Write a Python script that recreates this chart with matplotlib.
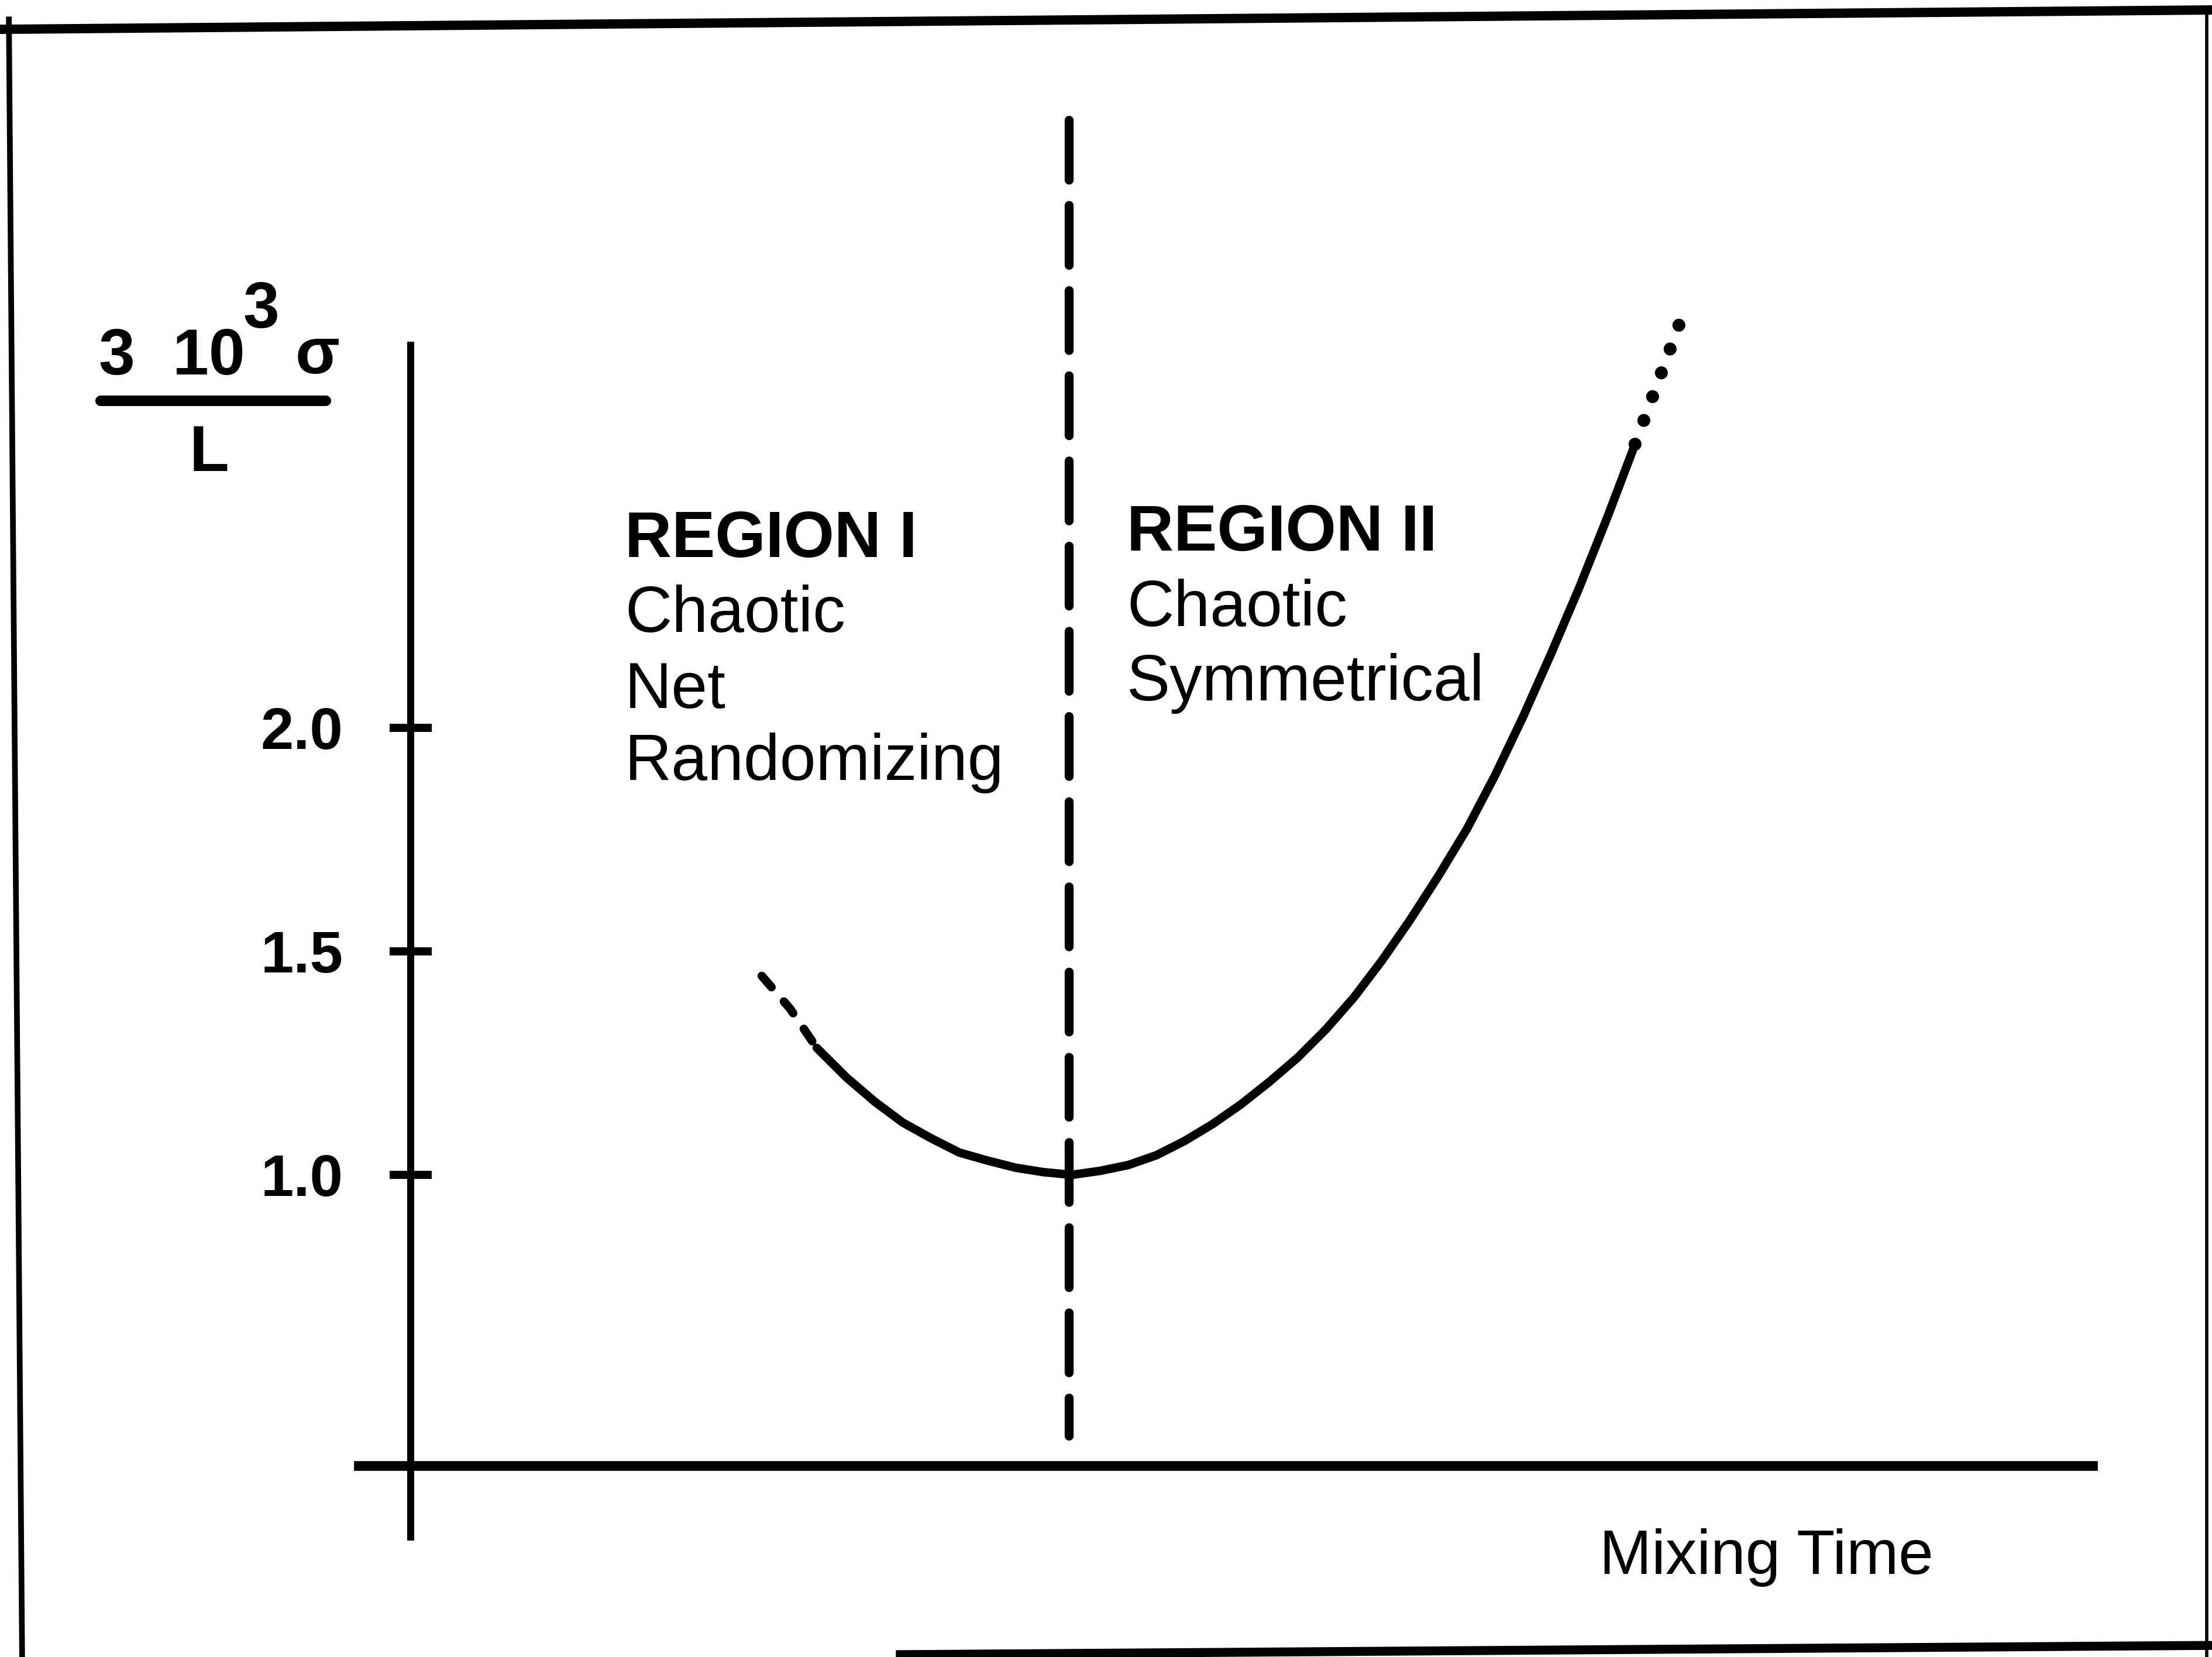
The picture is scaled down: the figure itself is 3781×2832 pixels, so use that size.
import matplotlib
matplotlib.use("Agg")
import matplotlib.pyplot as plt
from matplotlib.lines import Line2D

# ---------------- data ----------------
mix_time = [2.49, 2.69, 2.88, 3.09, 3.29, 3.49, 3.69, 3.89, 4.09, 4.29, 4.49,
            4.69, 4.89, 5.09, 5.29, 5.49, 5.69, 5.89, 6.09, 6.29, 6.49, 6.69,
            6.89, 7.09, 7.29, 7.49, 7.69, 7.89, 8.09, 8.29, 8.49, 8.68, 9.00]
sigma_ratio = [1.445, 1.372, 1.284, 1.218, 1.164, 1.117, 1.082, 1.050, 1.032,
               1.016, 1.006, 1.000, 1.009, 1.022, 1.044, 1.076, 1.114, 1.158,
               1.208, 1.262, 1.325, 1.397, 1.480, 1.571, 1.669, 1.773, 1.893,
               2.025, 2.167, 2.315, 2.473, 2.631, 2.905]
# slices of the curve drawn dashed / solid / dotted (extrapolated parts)
dashed_part = (0, 3)
solid_part = (2, 32)
dotted_part = (31, 33)

region_boundary = 4.67          # mixing time separating region I and II
boundary_span = (0.416, 3.36)   # vertical extent of the boundary line

ytick_vals = [1.0, 1.5, 2.0]
ytick_labels = ["1.0", "1.5", "2.0"]

region1_lines = ["REGION I", "Chaotic", "Net", "Randomizing"]
region2_lines = ["REGION II", "Chaotic", "Symmetrical"]
xlabel = "Mixing Time"

# ---------------- figure ----------------
plt.rcParams["font.family"] = ["Liberation Sans", "DejaVu Sans"]
fig = plt.figure(figsize=(37.81, 28.32), dpi=100)
ax = fig.add_axes([0, 0, 1, 1])
ax.set_xlim(-2.913, 12.776)
ax.set_ylim(-0.0785, 3.628)

for s in ("top", "right"):
    ax.spines[s].set_visible(False)
ax.spines["left"].set_position(("data", 0.0))
ax.spines["left"].set_bounds(0.19, 2.856)
ax.spines["left"].set_linewidth(8.6)
ax.spines["bottom"].set_position(("data", 0.35))
ax.spines["bottom"].set_bounds(-0.37, 11.93)
ax.spines["bottom"].set_linewidth(12)

ax.set_xticks([])
ax.set_yticks(ytick_vals)
ax.set_yticklabels(ytick_labels)
ax.tick_params(axis="y", direction="inout", length=52, width=10, pad=57,
               labelsize=73)
for lbl in ax.get_yticklabels():
    lbl.set_fontweight("bold")

# curve
lw_curve = 10.5
a, b = dashed_part
ax.plot(mix_time[a:b], sigma_ratio[a:b], color="black", lw=lw_curve,
        linestyle=(0, (1.74, 2.23)), dash_capstyle="round")
a, b = solid_part
ax.plot(mix_time[a:b], sigma_ratio[a:b], color="black", lw=lw_curve,
        solid_capstyle="round", solid_joinstyle="round")
a, b = dotted_part
ax.plot(mix_time[a:b], sigma_ratio[a:b], color="black", lw=16,
        linestyle=(1.83, (0.001, 1.95)), dash_capstyle="round")

# region boundary
ax.plot([region_boundary, region_boundary], [boundary_span[1], boundary_span[0]],
        color="black", lw=11, linestyle=(0, (6.7, 2.83)), dash_capstyle="round")

# region texts
r1_baselines = [2.382, 2.215, 2.044, 1.883]
for i, t in enumerate(region1_lines):
    ax.text(1.52, r1_baselines[i], t, fontsize=80,
            fontweight="bold" if i == 0 else "normal",
            ha="left", va="baseline")
r2_baselines = [2.397, 2.227, 2.061]
for i, t in enumerate(region2_lines):
    ax.text(5.08, r2_baselines[i], t, fontsize=80,
            fontweight="bold" if i == 0 else "normal",
            ha="left", va="baseline")

# x label
ax.text(8.43, 0.107, xlabel, fontsize=77, ha="left", va="baseline")

# y label: (3 10^3 sigma) / L
ax.text(-2.215, 2.791, "3", fontsize=80, fontweight="bold", ha="left", va="baseline")
ax.text(-1.69, 2.791, "10", fontsize=80, fontweight="bold", ha="left", va="baseline")
ax.text(-1.19, 2.895, "3", fontsize=80, fontweight="bold", ha="left", va="baseline")
ax.text(-0.82, 2.793, "σ", fontsize=80, fontweight="bold", ha="left", va="baseline")
ax.plot([-2.20, -0.60], [2.732, 2.732], color="black", lw=13, solid_capstyle="round")
ax.text(-1.57, 2.575, "L", fontsize=80, fontweight="bold", ha="left", va="baseline")

# scanned page frame
frame = [([0.0, 1.0], [0.9823, 0.9940], 11.5),
         ([0.004, 0.010], [0.99, 0.0], 7.0),
         ([0.9975, 0.9975], [0.995, 0.0], 4.0),
         ([0.405, 1.0], [0.0014, 0.0070], 11.0)]
for xs, ys, w in frame:
    fig.add_artist(Line2D(xs, ys, transform=fig.transFigure, color="black",
                          lw=w, solid_capstyle="butt"))

fig.savefig("out.png", dpi=100, facecolor="white")
